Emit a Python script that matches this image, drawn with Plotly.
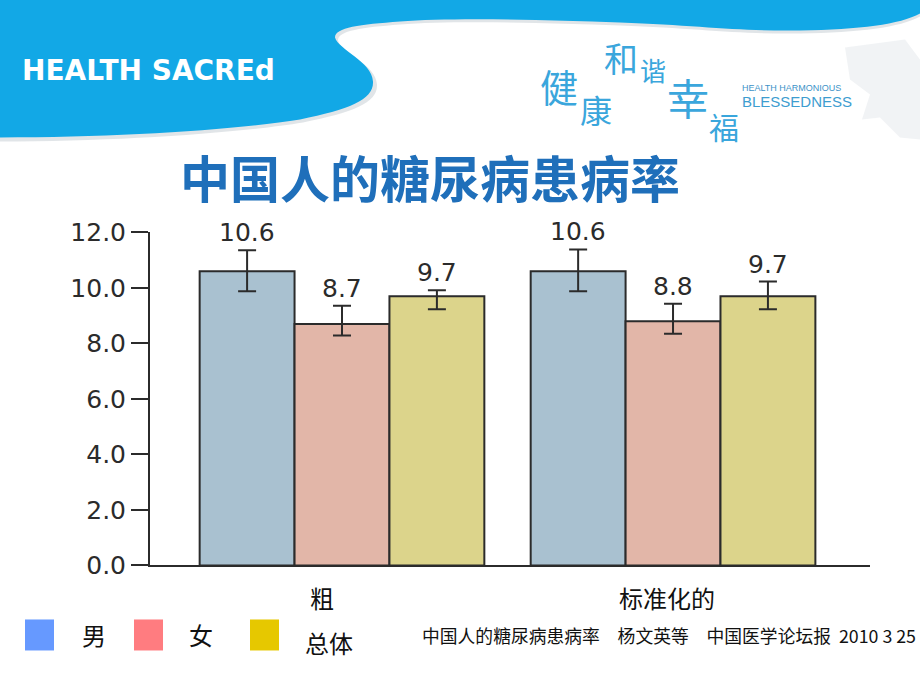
import plotly.graph_objects as go

# ---------------- data ----------------
categories = ["粗", "标准化的"]
series_names = ["男", "女", "总体"]
men = [10.6, 10.6]
women = [8.7, 8.8]
total = [9.7, 9.7]
men_err_plus = [0.76, 0.79]
men_err_minus = [0.72, 0.72]
women_err_plus = [0.66, 0.63]
women_err_minus = [0.41, 0.45]
total_err_plus = [0.22, 0.53]
total_err_minus = [0.47, 0.47]
y_ticks = [0, 2, 4, 6, 8, 10, 12]

title_text = "中国人的糖尿病患病率"
citation_text = "中国人的糖尿病患病率　杨文英等　中国医学论坛报  2010 3 25"

# ---------------- styles ----------------
W, H = 920, 690
bar_colors = ["#A9C1D0", "#E2B6A8", "#DCD48B"]
legend_colors = ["#6699FF", "#FF7C80", "#E6C800"]
ink = "#2B2B2B"
num_font = "DejaVu Sans"
cjk_font = "Noto Sans CJK SC"
bargap = 0.14

# vertical calibration of the rendered page (target pixel -> figure pixel)
Y_OFF, Y_SCALE = 14.5, 0.958


def fy(y):
    return (y - Y_OFF) / Y_SCALE


def px(x):
    return x / W


def py(y):
    return 1 - fy(y) / H


def P(x, y):
    return f"{px(x):.5f},{py(y):.5f}"


fig = go.Figure()

series_vals = [men, women, total]
series_plus = [men_err_plus, women_err_plus, total_err_plus]
series_minus = [men_err_minus, women_err_minus, total_err_minus]

for name, vals, ep, em, col in zip(series_names, series_vals, series_plus, series_minus, bar_colors):
    fig.add_trace(go.Bar(
        x=categories, y=vals, name=name,
        marker=dict(color=col, line=dict(color=ink, width=2)),
        error_y=dict(type="data", array=ep, arrayminus=em, symmetric=False,
                     color=ink, thickness=2, width=9),
        showlegend=False, hoverinfo="skip",
    ))

annotations = []
# value labels above error bars
bw = (1 - bargap) / len(series_names)
for j, (vals, ep) in enumerate(zip(series_vals, series_plus)):
    for i, (v, e) in enumerate(zip(vals, ep)):
        annotations.append(dict(
            x=i + (j - 1) * bw, y=v + e, xref="x", yref="y",
            text=f"{v:.1f}", showarrow=False, yanchor="bottom", yshift=1,
            font=dict(family=num_font, size=25, color=ink),
        ))

# category labels
cat_shift = [-20, -6]
for i, (c, s) in enumerate(zip(categories, cat_shift)):
    annotations.append(dict(
        x=i, y=py(598), xref="x", yref="paper", xshift=s,
        text=c, showarrow=False, yanchor="middle",
        font=dict(family=cjk_font, size=24, color="#111111"),
    ))

# title
annotations.append(dict(
    x=px(430), y=py(177), xref="paper", yref="paper",
    text=f"<b>{title_text}</b>", showarrow=False,
    xanchor="center", yanchor="middle",
    font=dict(family=cjk_font, size=50, color="#1F6FBA"),
))

# legend (manual, as in the slide)
legend_sq_x = [25, 134, 250]
legend_txt_x = [80, 187, 303]
legend_txt_y = [635, 635, 643]
shapes = []
for name, col, sx, tx, ty in zip(series_names, legend_colors, legend_sq_x, legend_txt_x, legend_txt_y):
    shapes.append(dict(type="rect", xref="paper", yref="paper",
                       x0=px(sx), x1=px(sx + 29), y0=py(651), y1=py(620),
                       fillcolor=col, line=dict(width=0), layer="above"))
    annotations.append(dict(
        x=px(tx), y=py(ty), xref="paper", yref="paper", text=name,
        showarrow=False, xanchor="left", yanchor="middle",
        font=dict(family=cjk_font, size=24, color="#111111"),
    ))

# citation
annotations.append(dict(
    x=px(420), y=py(636), xref="paper", yref="paper", text=citation_text,
    showarrow=False, xanchor="left", yanchor="middle",
    font=dict(family=cjk_font, size=17.8, color="#111111"),
))

# ---------------- header decoration ----------------
header_path = ("M " + P(0, -20) + " L " + P(920, -20) + " L " + P(920, 14) +
               " C " + P(900, 25) + " " + P(860, 30) + " " + P(800, 31) +
               " C " + P(740, 32) + " " + P(700, 26) + " " + P(620, 23) +
               " C " + P(540, 20) + " " + P(450, 18) + " " + P(400, 22) +
               " C " + P(360, 25) + " " + P(335, 28) + " " + P(335, 38) +
               " C " + P(338, 50) + " " + P(372, 62) + " " + P(373, 82) +
               " C " + P(374, 100) + " " + P(350, 110) + " " + P(300, 120) +
               " C " + P(240, 130) + " " + P(120, 138) + " " + P(0, 138) + " Z")
shadow_path = ("M " + P(0, -20) + " L " + P(920, -20) + " L " + P(920, 17) +
               " C " + P(900, 28) + " " + P(860, 33) + " " + P(800, 34) +
               " C " + P(740, 35) + " " + P(700, 29) + " " + P(620, 26) +
               " C " + P(540, 23) + " " + P(450, 21) + " " + P(400, 25) +
               " C " + P(362, 28) + " " + P(338, 31) + " " + P(338, 41) +
               " C " + P(341, 53) + " " + P(376, 65) + " " + P(377, 85) +
               " C " + P(378, 103) + " " + P(354, 113) + " " + P(303, 123) +
               " C " + P(243, 133) + " " + P(120, 142) + " " + P(0, 142) + " Z")
grey_path = ("M " + P(845, 48) + " L " + P(905, 40) + " L " + P(920, 60) + " L " + P(920, 140) +
             " L " + P(900, 138) + " L " + P(880, 118) + " L " + P(862, 120) + " L " + P(870, 95) +
             " L " + P(850, 80) + " Z")
shapes.insert(0, dict(type="path", path=grey_path, xref="paper", yref="paper",
                      fillcolor="rgba(215,220,225,0.35)", line=dict(width=0), layer="below"))
shapes.insert(1, dict(type="path", path=shadow_path, xref="paper", yref="paper",
                      fillcolor="rgba(170,180,190,0.35)", line=dict(width=0), layer="below"))
shapes.insert(2, dict(type="path", path=header_path, xref="paper", yref="paper",
                      fillcolor="#12A8E6", line=dict(width=0), layer="below"))

annotations.append(dict(
    x=px(20), y=py(71), xref="paper", yref="paper", text="<b>HEALTH SACREd</b>",
    showarrow=False, xanchor="left", yanchor="middle",
    font=dict(family="DejaVu Sans", size=28, color="#FFFFFF"),
))

callig = [("健", 559, 86, 38), ("康", 596, 110, 32), ("和", 621, 58, 34),
          ("谐", 653, 70, 26), ("幸", 688, 97, 42), ("福", 724, 127, 30)]
for ch, cx, cy, sz in callig:
    annotations.append(dict(
        x=px(cx), y=py(cy), xref="paper", yref="paper", text=ch,
        showarrow=False, xanchor="center", yanchor="middle",
        font=dict(family=cjk_font, size=sz, color="#3AA6DC"),
    ))
annotations.append(dict(
    x=px(740), y=py(89), xref="paper", yref="paper", text="HEALTH HARMONIOUS",
    showarrow=False, xanchor="left", yanchor="middle",
    font=dict(family="Liberation Sans", size=9, color="#3D93C8"),
))
annotations.append(dict(
    x=px(740), y=py(102), xref="paper", yref="paper", text="BLESSEDNESS",
    showarrow=False, xanchor="left", yanchor="middle",
    font=dict(family="Liberation Sans", size=15, color="#3D9DD0"),
))

fig.update_layout(
    width=W, height=H,
    margin=dict(l=0, r=0, t=0, b=0),
    paper_bgcolor="white", plot_bgcolor="rgba(0,0,0,0)",
    barmode="group", bargap=bargap, bargroupgap=0,
    xaxis=dict(domain=[px(150), px(870)], range=[-0.58, 1.595],
               showline=True, linecolor=ink, linewidth=2,
               showticklabels=False, ticks="", showgrid=False, zeroline=False),
    yaxis=dict(domain=[py(566), py(233)], range=[0, 12],
               tickvals=y_ticks, tickformat=".1f",
               showline=True, linecolor=ink, linewidth=2,
               ticks="outside", ticklen=17, tickwidth=2, tickcolor=ink,
               tickfont=dict(family=num_font, size=25, color=ink),
               showgrid=False, zeroline=False),
    shapes=shapes, annotations=annotations,
    showlegend=False,
)

fig.write_html("out.html")
